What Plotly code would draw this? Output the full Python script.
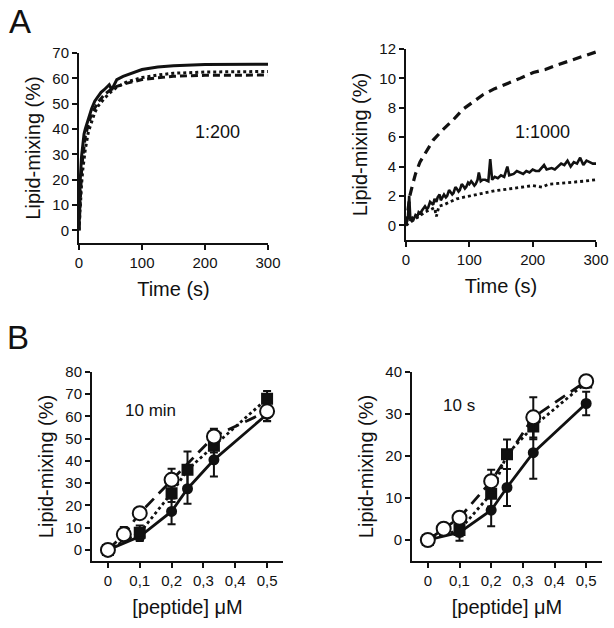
import plotly.graph_objects as go

# ---------------- Panel A data (kinetics) ----------------
# 1:200
a1_solid_t = [0, 1, 2, 4, 6, 8, 10, 15, 20, 25, 30, 35, 40, 45, 48, 52, 56, 60, 70, 80, 100, 125, 150, 200, 250, 300]
a1_solid_v = [0, 12, 20, 29, 34, 38, 40, 44, 48, 51, 53, 54.5, 55.5, 57, 57.5, 55.5, 57.5, 59.5, 60.8, 61.8, 63.5, 64.5, 65, 65.5, 65.6, 65.6]
a1_dot_t = [0, 2, 4, 6, 8, 10, 15, 20, 25, 30, 40, 50, 60, 75, 100, 125, 150, 200, 250, 300]
a1_dot_v = [0, 10, 18, 24, 29, 32, 39, 43, 46.5, 49, 52, 54.5, 56.5, 58.5, 60.3, 61.3, 62, 62.5, 62.6, 62.7]
a1_dash_t = [0, 2, 4, 6, 8, 10, 15, 20, 30, 40, 50, 60, 75, 100, 125, 150, 200, 250, 300]
a1_dash_v = [0, 14, 23, 29, 34, 37, 42, 46, 50.5, 53.5, 55.5, 56.8, 58, 59.5, 60.2, 60.8, 61.2, 61.3, 61.3]

# 1:1000
a2_solid_t = [0, 3, 5, 7, 10, 12, 15, 18, 20, 23, 25, 28, 30, 33, 35, 38, 40, 43, 45, 48, 50, 53, 55, 58,
              60, 63, 65, 68, 70, 73, 75, 78, 80, 83, 85, 88, 90, 93, 95, 98, 100, 103, 105, 108,
              110, 113, 115, 118, 121, 125, 130, 133, 136, 140, 145, 150, 155, 160, 163, 170, 175, 180,
              185, 190, 195, 200, 205, 210, 218, 222, 230, 235, 240, 245, 250, 255, 260, 265, 270, 275,
              280, 285, 290, 295, 300]
a2_solid_v = [0, 0.5, 2.0, 0.3, 0.5, 0.4, 0.7, 0.6, 0.9, 0.8, 1.0, 1.2, 1.3, 1.1, 1.2, 1.6, 1.5, 1.4,
              1.8, 1.6, 1.9, 2.1, 1.7, 2.0, 2.1, 1.9, 2.0, 2.4, 2.3, 2.1, 2.2, 2.6, 2.5, 2.3, 2.4, 2.8,
              2.7, 2.5, 2.6, 2.9, 2.8, 3.0, 2.9, 2.7, 2.8, 3.1, 3.6, 3.0, 3.1, 3.1, 3.0, 4.5, 3.1, 3.3,
              3.2, 3.4, 3.3, 4.0, 3.4, 3.5, 3.7, 3.6, 3.5, 3.7, 3.6, 3.8, 3.7, 3.7, 4.1, 3.8, 3.9, 3.8,
              4.0, 4.2, 4.1, 4.4, 4.0, 4.3, 4.2, 4.6, 4.1, 4.4, 4.3, 4.2, 4.2]
a2_dot_t = [0, 10, 20, 30, 40, 45, 48, 52, 60, 70, 80, 90, 100, 110, 125, 140, 150, 165, 180, 200, 215, 225, 240, 260, 280, 300]
a2_dot_v = [0, 0.3, 0.6, 0.9, 1.1, 1.2, 0.6, 1.3, 1.4, 1.6, 1.8, 1.9, 2.0, 2.1, 2.25, 2.35, 2.4, 2.5, 2.55, 2.7, 2.6, 2.8, 2.85, 2.9, 3.0, 3.1]
a2_dash_t = [0, 3, 6, 10, 15, 22, 30, 43, 58, 75, 90, 105, 122, 140, 164, 180, 201, 220, 238, 260, 280, 300]
a2_dash_v = [0, 1.0, 2.0, 2.7, 3.5, 4.3, 4.9, 5.8, 6.5, 7.2, 7.9, 8.4, 8.9, 9.3, 9.7, 10.0, 10.4, 10.6, 10.9, 11.2, 11.5, 11.8]

# ---------------- Panel B data (dose response) ----------------
conc_a = [0, 0.1, 0.2, 0.25, 0.333, 0.5]
conc_b = [0, 0.05, 0.1, 0.2, 0.333, 0.5]
x_tick_vals = [0, 0.1, 0.2, 0.3, 0.4, 0.5]
x_tick_text = ["0", "0,1", "0,2", "0,3", "0,4", "0,5"]

# 10 min
b1_circ_v = [0, 6, 17.3, 27.5, 40.5, 61]
b1_circ_e = [0, 2, 5.8, 6.8, 7.5, 3]
b1_sq_v = [0, 7.7, 25.5, 36, 46.8, 68]
b1_sq_e = [0, 3.3, 4, 8.3, 3, 3.5]
b1_open_v = [0, 7, 16.5, 31.5, 51, 62.3]
b1_open_e = [0, 3.3, 0, 5, 3.5, 4.5]

# 10 s
b2_circ_v = [0, 1.8, 7.1, 12.5, 20.8, 32.5]
b2_circ_e = [0, 2, 3.8, 4.4, 6.2, 2.8]
b2_sq_v = [0, 2.4, 11, 20.4, 27, 37.5]
b2_sq_e = [0, 1.5, 3, 3.5, 3, 1]
b2_open_v = [0, 2.7, 5.3, 14, 29.2, 37.8]
b2_open_e = [0, 0.5, 0.8, 2.7, 4.8, 0.8]

FONT = "Liberation Sans, Arial, sans-serif"
BLACK = "#111111"

fig = go.Figure()

def kin(t, v, dash, width, xa, ya):
    fig.add_trace(go.Scatter(x=t, y=v, mode="lines", xaxis=xa, yaxis=ya,
                             line=dict(color=BLACK, width=width, dash=dash), showlegend=False))

kin(a1_dash_t, a1_dash_v, "7px,4px", 3, "x", "y")
kin(a1_dot_t, a1_dot_v, "dot", 3, "x", "y")
kin(a1_solid_t, a1_solid_v, "solid", 3, "x", "y")
kin(a2_dash_t, a2_dash_v, "9px,6px", 3.2, "x2", "y2")
kin(a2_dot_t, a2_dot_v, "dot", 2.8, "x2", "y2")
kin(a2_solid_t, a2_solid_v, "solid", 2.6, "x2", "y2")

def dose(x, v, e, dash, symbol, size, fill, xa, ya):
    fig.add_trace(go.Scatter(
        x=x, y=v, mode="lines+markers", xaxis=xa, yaxis=ya, showlegend=False,
        line=dict(color=BLACK, width=2.8, dash=dash),
        marker=dict(symbol=symbol, size=size, color=fill, line=dict(color=BLACK, width=2)),
        error_y=dict(type="data", array=e, visible=True, color=BLACK, thickness=2, width=4)))

dose(conc_a, b1_circ_v, b1_circ_e, "solid", "circle", 9, BLACK, "x3", "y3")
dose(conc_a, b1_sq_v, b1_sq_e, "dot", "square", 10, BLACK, "x3", "y3")
dose(conc_b, b1_open_v, b1_open_e, "12px,7px", "circle", 14, "white", "x3", "y3")
dose(conc_a, b2_circ_v, b2_circ_e, "solid", "circle", 9, BLACK, "x4", "y4")
dose(conc_a, b2_sq_v, b2_sq_e, "dot", "square", 10, BLACK, "x4", "y4")
dose(conc_b, b2_open_v, b2_open_e, "12px,7px", "circle", 14, "white", "x4", "y4")

W, H = 614, 628
def dx(a, b):
    return [a / W, b / W]
def dy(top, bottom):
    return [1 - bottom / H, 1 - top / H]

axis_common = dict(showline=True, linecolor=BLACK, linewidth=2, ticks="outside", ticklen=5,
                   tickwidth=2, tickcolor=BLACK, showgrid=False, zeroline=False, automargin=False,
                   tickfont=dict(family=FONT, size=15, color=BLACK))
title_font = dict(family=FONT, size=20, color=BLACK)

fig.update_layout(
    width=W, height=H, margin=dict(l=0, r=0, t=0, b=0, pad=0, autoexpand=False),
    paper_bgcolor="white", plot_bgcolor="white", showlegend=False,
    xaxis=dict(axis_common, domain=dx(79, 268), range=[0, 300], tickvals=[0, 100, 200, 300],
               anchor="y", title=dict(text="Time (s)", font=title_font, standoff=12)),
    yaxis=dict(axis_common, domain=dy(53, 243), range=[-5, 70], tickvals=list(range(0, 71, 10)),
               anchor="x", title=dict(text="Lipid-mixing (%)", font=title_font, standoff=6)),
    xaxis2=dict(axis_common, domain=dx(406, 596), range=[0, 300], tickvals=[0, 100, 200, 300],
                anchor="y2", title=dict(text="Time (s)", font=title_font, standoff=12)),
    yaxis2=dict(axis_common, domain=dy(49, 240), range=[-1, 12], tickvals=list(range(0, 13, 2)),
                anchor="x2", title=dict(text="Lipid-mixing (%)", font=title_font, standoff=6)),
    xaxis3=dict(axis_common, domain=dx(92, 283), range=[-0.05, 0.55], tickvals=x_tick_vals,
                ticktext=x_tick_text, anchor="y3",
                title=dict(text="[peptide] μM", font=title_font, standoff=12)),
    yaxis3=dict(axis_common, domain=dy(372, 561), range=[-5, 80], tickvals=list(range(0, 81, 10)),
                anchor="x3", title=dict(text="Lipid-mixing (%)", font=title_font, standoff=6)),
    xaxis4=dict(axis_common, domain=dx(412, 602), range=[-0.05, 0.55], tickvals=x_tick_vals,
                ticktext=x_tick_text, anchor="y4",
                title=dict(text="[peptide] μM", font=title_font, standoff=12)),
    yaxis4=dict(axis_common, domain=dy(372, 561), range=[-5, 40], tickvals=list(range(0, 41, 10)),
                anchor="x4", title=dict(text="Lipid-mixing (%)", font=title_font, standoff=6)),
)

def label(text, x, y, size):
    fig.add_annotation(text=text, x=x / W, y=1 - y / H, xref="paper", yref="paper",
                       showarrow=False, font=dict(family=FONT, size=size, color=BLACK),
                       xanchor="center", yanchor="middle")

label("A", 20, 22, 33)
label("B", 18, 337, 33)
label("1:200", 217, 132, 18)
label("1:1000", 542, 132, 18)
label("10 min", 150, 410, 17)
label("10 s", 459, 405, 17)

fig.write_html("out.html", config={"displayModeBar": False},
               post_script="document.body.style.margin='0';document.body.style.overflow='hidden';")
